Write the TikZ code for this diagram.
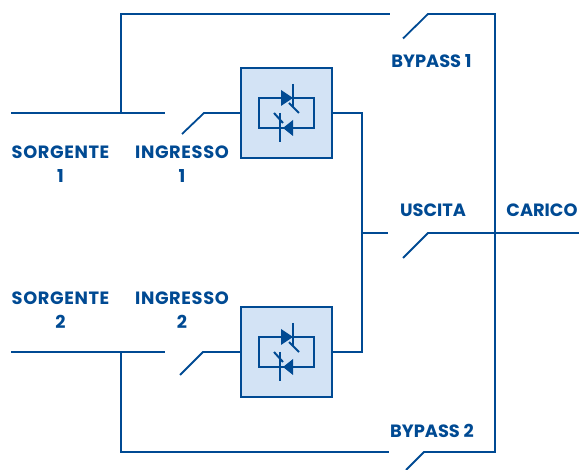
\documentclass[tikz,border=0pt]{standalone}
\usepackage{fontspec}
\setmainfont{Poppins}
\definecolor{wire}{HTML}{004A93}
\definecolor{boxfill}{HTML}{D3E3F5}
\tikzset{
  wireline/.style={draw=wire,line width=1.8pt},
  lab/.style={text=wire,font=\fontsize{17.8}{24}\selectfont\bfseries,align=center,inner sep=0pt,anchor=center},
  widelab/.style={lab,font=\fontsize{17.8}{24}\selectfont\bfseries\addfontfeature{LetterSpace=3.5}},
  ssr/.style={draw=wire,fill=boxfill,line width=2pt,minimum width=91pt,minimum height=90pt,inner sep=0pt,outer sep=0pt}
}
\newcommand{\thyr}[1]{%
  \begin{scope}[shift={(#1)}]
    \draw[wireline,line width=2.2pt] (-27.5,-15) rectangle (27.5,15);
    \fill[wire] (-5.5,-23) -- (6.5,-15) -- (-5.5,-7) -- cycle;
    \draw[wireline,line width=2.2pt] (6.5,-29) -- (6.5,-6);
    \draw[wireline,line width=2pt] (2.5,-10) -- (12.5,0);
    \fill[wire] (6.5,7) -- (-3.5,15) -- (6.5,23) -- cycle;
    \draw[wireline,line width=2.2pt] (-6.5,0) -- (-6.5,29);
    \draw[wireline,line width=2pt] (-12.5,0) -- (-3.5,10);
  \end{scope}}
\begin{document}
\begin{tikzpicture}[x=1pt,y=-1pt]
\useasboundingbox (0,0) rectangle (579,470);
\node[ssr] (ssrA) at (286.5,113) {};
\node[ssr] (ssrB) at (286.5,352) {};
\thyr{286.5,113}
\thyr{286.5,352}
% sources
\coordinate (s1w) at (11,113); \coordinate (s1e) at (165,113);
\coordinate (s2w) at (11,352); \coordinate (s2e) at (165,352);
\coordinate (t1) at (121,113); \coordinate (t2) at (121,352);
\draw[wireline] (s1w) -- (s1e);
\draw[wireline] (s2w) -- (s2e);
% bypass 1
\coordinate (b1a) at (390,14); \coordinate (b1b) at (403,38.5); \coordinate (b1c) at (428,14);
\draw[wireline] (t1) |- (b1a);
\coordinate (rt) at (495,14); \coordinate (rb) at (495,452);
\draw[wireline,line join=miter] (b1b) -- (b1c) -- (rt) -- (rb) -- (424,452) -- (406,470);
% bypass 2
\coordinate (b2a) at (389,452);
\draw[wireline] (t2) |- (b2a);
% inputs
\coordinate (i1a) at (182,134); \coordinate (i1b) at (204,113);
\coordinate (i2a) at (180,375); \coordinate (i2b) at (203,352);
\draw[wireline] (i1a) -- (i1b) -- (ssrA.west);
\draw[wireline] (i2a) -- (i2b) -- (ssrB.west);
% outputs
\coordinate (oA) at (362,113); \coordinate (oB) at (362,352); \coordinate (oM) at (362,233); \coordinate (oE) at (388,233);
\draw[wireline] (ssrA.east) -- (oA) -- (oB) -- (ssrB.east);
\draw[wireline] (oM) -- (oE);
\coordinate (u1) at (403,258); \coordinate (u2) at (428,233); \coordinate (u3) at (579,233);
\draw[wireline] (u1) -- (u2) -- (u3);
% labels
\node[widelab] (l1) at (60.5,164) {SORGENTE\\1};
\node[widelab] (l2) at (182,164) {INGRESSO\\1};
\node[widelab] (l3) at (60.5,310) {SORGENTE\\2};
\node[widelab] (l4) at (182,310) {INGRESSO\\2};
\node[lab] (l5) at (431.5,61) {BYPASS 1};
\node[lab] (l6) at (432,431) {BYPASS 2};
\node[lab] (l7) at (433,210) {USCITA};
\node[lab] (l8) at (542,210) {CARICO};
\end{tikzpicture}
\end{document}
